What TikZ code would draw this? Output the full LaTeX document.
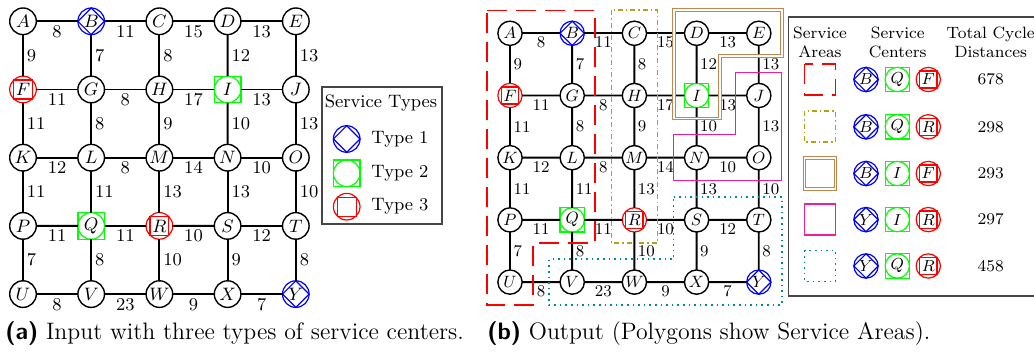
\documentclass[tikz,border=0pt]{standalone}
\usetikzlibrary{calc}
\definecolor{pinkc}{RGB}{240,30,150}
\definecolor{olivec}{RGB}{181,160,25}
\definecolor{brownc}{RGB}{195,135,75}
\definecolor{tealc}{RGB}{0,140,150}
\definecolor{framec}{RGB}{70,70,70}
\newcommand\labfont{\fontsize{9}{10}\selectfont}
\newcommand\tabfont{\fontsize{8.2}{9.6}\selectfont}
\newcommand\symA[4][]{\node[vtx,#1,draw=blue,line width=0.6pt] (#2) at (#3) {#4};
  \draw[blue,line width=0.6pt] (#2.north) -- (#2.east) -- (#2.south) -- (#2.west) -- cycle;}
\newcommand\symB[4][]{\node[vtx,#1,draw=green,line width=0.6pt] (#2) at (#3) {#4};
  \draw[green,line width=0.6pt] (#2.north -| #2.west) rectangle (#2.south -| #2.east);}
\newcommand\symC[4][]{\node[vtx,#1,draw=red,line width=0.6pt] (#2) at (#3) {#4};
  \draw[red,line width=0.6pt] (#2.north east) rectangle (#2.south west);}
\newcommand\gridgraph[1]{%
  \foreach \n/\c/\r in {A/0/0,C/2/0,D/3/0,E/4/0,G/1/1,H/2/1,J/4/1,K/0/2,L/1/2,M/2/2,N/3/2,O/4/2,P/0/3,S/3/3,T/4/3,U/0/4,V/1/4,W/2/4,X/3/4}
    \node[vtx] (#1\n) at (\c*68.2,\r*68.2) {$\n$};
  \symA{#1B}{68.2,0}{$B$}
  \symA{#1Y}{272.8,272.8}{$Y$}
  \symB{#1I}{204.6,68.2}{$I$}
  \symB{#1Q}{68.2,204.6}{$Q$}
  \symC{#1F}{0,68.2}{$F$}
  \symC{#1R}{136.4,204.6}{$R$}
  \foreach \u/\v/\w in {A/B/8,B/C/11,C/D/15,D/E/13,F/G/11,G/H/8,H/I/17,I/J/13,K/L/12,L/M/8,M/N/14,N/O/10,P/Q/11,Q/R/11,R/S/10,S/T/12,U/V/8,V/W/23,W/X/9,X/Y/7}
    \draw[gedge] (#1\u) -- node[hlab] {\w} (#1\v);
  \foreach \u/\v/\w in {A/F/9,B/G/7,C/H/8,D/I/12,E/J/13,F/K/11,G/L/8,H/M/9,I/N/10,J/O/13,K/P/11,L/Q/11,M/R/13,N/S/13,O/T/10,P/U/7,Q/V/8,R/W/10,S/X/9,T/Y/8}
    \draw[gedge] (#1\u) -- node[vlab] {\w} (#1\v);
}
\begin{document}
\begin{tikzpicture}[x=0.5pt,y=-0.5pt,
  vtx/.style={circle,draw,line width=0.7pt,minimum size=13.3pt,inner sep=0pt,outer sep=0pt,font=\labfont},
  tsym/.style={minimum size=12.15pt,font=\tabfont},
  gedge/.style={line width=0.95pt},
  hlab/.style={below,inner sep=1.5pt,font=\labfont},
  vlab/.style={right,inner sep=1.5pt,font=\labfont},
  boxframe/.style={draw=framec,line width=0.8pt},
  redpoly/.style={draw=red,line width=0.75pt,dash pattern=on 10pt off 4.5pt},
  olivepoly/.style={draw=olivec,line width=0.8pt,dash pattern=on 2.5pt off 1.5pt on 0.7pt off 1.5pt},
  brownpoly/.style={draw=brownc,line width=0.5pt,double,double distance=0.9pt},
  pinkpoly/.style={draw=pinkc,line width=0.65pt},
  tealpoly/.style={draw=tealc,line width=0.8pt,dotted},
  txt/.style={inner sep=0pt,font=\labfont},
  ttxt/.style={inner sep=0pt,font=\tabfont,align=center},
  captext/.style={anchor=base west,inner sep=0pt,font=\fontsize{11.9}{14}\selectfont}]
\useasboundingbox (0,0) rectangle (1034,352);
% ---------- (a) ----------
\begin{scope}[shift={(23,21.3)}]
  \gridgraph{a}
\end{scope}
\draw[boxframe] (321.7,87.3) rectangle (441.7,224);
\node[txt] (lgtitle) at (381,103.3) {Service Types};
\symA{lg1}{346.7,139}{}
\symB{lg2}{346.7,173.3}{}
\symC{lg3}{346.7,206.7}{}
\node[txt,anchor=west] (lgt1) at (371,139) {Type 1};
\node[txt,anchor=west] (lgt2) at (371,173.3) {Type 2};
\node[txt,anchor=west] (lgt3) at (371,206.7) {Type 3};
% ---------- (b) ----------
\begin{scope}[shift={(510,33.3)},scale=0.912,transform shape]
  \gridgraph{b}
\end{scope}
\draw[redpoly] (487,10.3) -- (595.2,10.3) -- (595.2,242.9) -- (533,242.9) -- (533,305.1) -- (487,305.1) -- cycle;
\draw[olivepoly] (611.4,10.3) rectangle (657.4,242.9);
\draw[brownpoly] (673.6,10.3) -- (781.8,10.3) -- (781.8,56.3) -- (719.6,56.3) -- (719.6,118.5) -- (673.6,118.5) -- cycle;
\draw[pinkpoly] (735.8,72.5) -- (781.8,72.5) -- (781.8,180.7) -- (673.6,180.7) -- (673.6,134.7) -- (735.8,134.7) -- cycle;
\draw[tealpoly] (673.6,196.9) -- (781.8,196.9) -- (781.8,305.1) -- (549.2,305.1) -- (549.2,259.1) -- (673.6,259.1) -- cycle;
% table
\draw[boxframe] (1034,17.3) -- (788.3,17.3) -- (788.3,296) -- (1034,296);
\node[ttxt] (h1) at (820,42.5) {Service\\Areas};
\node[ttxt] (h2) at (897.7,42.5) {Service\\Centers};
\node[ttxt] (h3) at (990.7,42.5) {Total Cycle\\Distances};
\draw[redpoly] (804.5,64) rectangle (835.5,95);
\draw[olivepoly] (804.5,111.3) rectangle (835.5,142.3);
\draw[brownpoly] (804.5,158) rectangle (835.5,189);
\draw[pinkpoly] (804.5,204.1) rectangle (835.5,235.1);
\draw[tealpoly] (804.5,250.5) rectangle (835.5,281.5);
\symA[tsym]{t1a}{866,79.5}{$B$}  \symB[tsym]{t1b}{897.3,79.5}{$Q$}  \symC[tsym]{t1c}{928.3,79.5}{$F$}
\symA[tsym]{t2a}{866,126.8}{$B$} \symB[tsym]{t2b}{897.3,126.8}{$Q$} \symC[tsym]{t2c}{928.3,126.8}{$R$}
\symA[tsym]{t3a}{866,173.5}{$B$} \symB[tsym]{t3b}{897.3,173.5}{$I$} \symC[tsym]{t3c}{928.3,173.5}{$F$}
\symA[tsym]{t4a}{866,219.6}{$Y$} \symB[tsym]{t4b}{897.3,219.6}{$I$} \symC[tsym]{t4c}{928.3,219.6}{$R$}
\symA[tsym]{t5a}{866,266}{$Y$}   \symB[tsym]{t5b}{897.3,266}{$Q$}   \symC[tsym]{t5c}{928.3,266}{$R$}
\node[ttxt] (d1) at (990.7,79.5) {678};
\node[ttxt] (d2) at (990.7,126.8) {298};
\node[ttxt] (d3) at (990.7,173.5) {293};
\node[ttxt] (d4) at (990.7,219.6) {297};
\node[ttxt] (d5) at (990.7,266) {458};
% captions
\node[captext] (capa) at (5,339.5) {\textsf{\bfseries (a)} Input with three types of service centers.};
\node[captext] (capb) at (487,339.5) {\textsf{\bfseries (b)} Output (Polygons show Service Areas).};
\end{tikzpicture}
\end{document}
